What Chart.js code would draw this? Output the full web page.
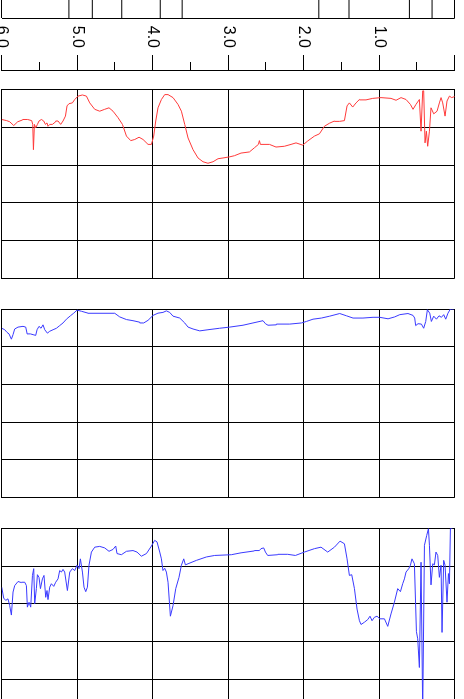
<!DOCTYPE html>
<html>
<head>
<meta charset="utf-8">
<script src="https://cdn.jsdelivr.net/npm/chart.js@4.4.1/dist/chart.umd.min.js"></script>
<style>
html,body{margin:0;padding:0;background:#fff;width:464px;height:699px;overflow:hidden}
#log{position:absolute;left:0;top:0;width:699px;height:464px;transform-origin:0 0;transform:translate(464px,0) rotate(90deg);overflow:hidden;background:#fff}
#log canvas{position:absolute;top:0}
</style>
</head>
<body>
<div id="log">
  <canvas id="marks" width="19" height="474" style="left:0px"></canvas>
  <canvas id="depth" width="76" height="474" style="left:0px"></canvas>
  <canvas id="t1" width="200" height="474" style="left:85px"></canvas>
  <canvas id="t2" width="200" height="474" style="left:304px"></canvas>
  <canvas id="t3" width="200" height="474" style="left:523px"></canvas>
</div>
<script>
// ---------- data ----------
const depthTickLabels = ['', '1.0', '2.0', '3.0', '4.0', '5.0', '6.0'];   // labels for depth 0..6
const markerDepths = [5.11, 4.80, 4.41, 3.90, 3.61, 1.80, 1.40, 0.60, 0.30];

const redDepth = [6.000,5.934,5.894,5.841,5.788,5.722,5.656,5.603,5.589,5.580,5.567,5.550,5.527,5.506,5.474,5.444,5.421,5.400,5.387,5.364,5.329,5.285,5.254,5.219,5.188,5.156,5.135,5.109,5.064,5.033,4.989,4.931,4.878,4.834,4.768,4.702,4.636,4.579,4.526,4.460,4.401,4.348,4.291,4.238,4.181,4.128,4.062,4.017,3.987,3.960,3.930,3.885,3.841,3.797,3.731,3.665,3.620,3.576,3.532,3.466,3.400,3.334,3.268,3.201,3.135,3.069,2.980,2.918,2.830,2.719,2.653,2.600,2.587,2.574,2.454,2.367,2.256,2.168,2.102,2.013,1.947,1.858,1.792,1.726,1.660,1.593,1.527,1.461,1.426,1.395,1.351,1.307,1.262,1.175,1.086,0.976,0.844,0.777,0.711,0.645,0.587,0.552,0.513,0.468,0.446,0.424,0.411,0.393,0.375,0.358,0.335,0.314,0.278,0.234,0.203,0.181,0.159,0.128,0.102,0.070,0.040,0.000];
const redValue = [0.79,0.82,0.85,0.95,0.85,0.80,0.79,0.82,0.92,1.59,0.92,1.01,0.92,0.83,0.79,0.83,0.92,0.88,0.97,0.92,0.92,0.85,0.83,0.92,0.83,0.70,0.43,0.37,0.35,0.26,0.17,0.14,0.17,0.35,0.52,0.57,0.52,0.48,0.57,0.74,0.92,1.23,1.35,1.32,1.26,1.32,1.45,1.45,1.23,0.83,0.48,0.26,0.13,0.13,0.21,0.39,0.57,0.92,1.28,1.59,1.81,1.91,1.95,1.91,1.83,1.81,1.78,1.75,1.68,1.65,1.54,1.45,1.35,1.45,1.45,1.52,1.50,1.45,1.41,1.47,1.36,1.23,1.17,0.97,0.89,0.83,0.84,0.82,0.43,0.35,0.46,0.35,0.26,0.27,0.23,0.21,0.23,0.28,0.21,0.26,0.39,0.52,0.39,0.26,1.10,0.03,0.03,1.41,1.10,1.50,1.10,0.48,0.64,0.57,0.35,0.21,0.35,0.70,0.30,0.17,0.21,0.18];

const blueADepth = [6.000,5.960,5.930,5.903,5.872,5.850,5.828,5.784,5.718,5.682,5.665,5.620,5.585,5.550,5.532,5.506,5.479,5.453,5.430,5.395,5.364,5.320,5.275,5.232,5.188,5.143,5.090,5.046,5.003,4.944,4.857,4.746,4.613,4.503,4.437,4.348,4.261,4.172,4.119,4.062,3.996,3.930,3.864,3.819,3.775,3.731,3.642,3.576,3.532,3.466,3.377,3.268,3.113,2.980,2.804,2.672,2.539,2.507,2.473,2.362,2.185,2.030,1.964,1.877,1.766,1.656,1.523,1.434,1.347,1.215,1.082,0.993,0.883,0.795,0.728,0.619,0.552,0.530,0.517,0.486,0.441,0.411,0.384,0.362,0.331,0.309,0.278,0.242,0.208,0.176,0.146,0.119,0.089,0.057,0.013];
const blueAValue = [0.51,0.55,0.62,0.66,0.80,0.68,0.53,0.48,0.46,0.48,0.64,0.66,0.68,0.70,0.55,0.46,0.51,0.42,0.55,0.64,0.59,0.55,0.51,0.44,0.37,0.27,0.18,0.11,0.03,0.06,0.11,0.11,0.11,0.12,0.21,0.28,0.31,0.35,0.37,0.30,0.17,0.11,0.09,0.05,0.09,0.19,0.24,0.37,0.48,0.53,0.58,0.55,0.51,0.48,0.43,0.37,0.31,0.39,0.43,0.42,0.40,0.37,0.33,0.27,0.24,0.19,0.12,0.18,0.24,0.24,0.22,0.22,0.26,0.21,0.15,0.12,0.17,0.24,0.44,0.39,0.40,0.51,0.33,0.02,0.11,0.33,0.19,0.27,0.18,0.22,0.15,0.27,0.11,0.00,0.00];

const blueBDepth = [6.000,5.974,5.947,5.917,5.894,5.872,5.850,5.828,5.784,5.739,5.695,5.673,5.660,5.638,5.616,5.593,5.576,5.563,5.541,5.527,5.506,5.487,5.461,5.440,5.417,5.400,5.387,5.364,5.342,5.311,5.285,5.254,5.232,5.209,5.188,5.166,5.130,5.099,5.064,5.033,5.003,4.976,4.958,4.931,4.910,4.887,4.865,4.844,4.812,4.768,4.702,4.636,4.579,4.526,4.490,4.473,4.415,4.348,4.261,4.208,4.150,4.083,4.017,3.974,3.943,3.907,3.885,3.864,3.841,3.819,3.797,3.766,3.731,3.695,3.652,3.620,3.589,3.567,3.532,3.421,3.289,3.179,2.958,2.830,2.653,2.587,2.566,2.530,2.507,2.477,2.344,2.212,2.110,1.991,1.858,1.771,1.682,1.593,1.519,1.461,1.426,1.395,1.364,1.328,1.294,1.262,1.241,1.196,1.152,1.122,1.095,1.064,1.029,0.997,0.931,0.887,0.844,0.799,0.755,0.719,0.689,0.666,0.645,0.609,0.587,0.566,0.534,0.507,0.490,0.468,0.446,0.424,0.401,0.371,0.348,0.335,0.314,0.291,0.269,0.248,0.225,0.203,0.181,0.168,0.146,0.128,0.102,0.083,0.070,0.057,0.030];
const blueBValue = [1.56,1.85,1.91,1.87,2.05,2.30,1.69,1.52,1.41,1.44,1.43,1.52,2.09,1.96,2.09,1.25,1.07,2.00,1.60,1.23,1.30,1.60,1.34,1.25,1.83,1.65,1.89,1.56,1.47,1.54,1.43,1.34,1.12,1.16,1.09,1.16,1.65,1.16,1.07,1.12,0.98,1.07,0.81,1.16,1.56,1.68,1.56,0.98,0.63,0.50,0.48,0.52,0.61,0.56,0.47,0.67,0.70,0.61,0.59,0.63,0.74,0.67,0.47,0.32,0.36,0.63,0.81,1.12,1.06,1.16,1.43,2.33,2.05,1.60,1.30,0.98,0.81,0.97,0.94,0.85,0.76,0.72,0.70,0.65,0.60,0.59,0.54,0.52,0.63,0.72,0.70,0.69,0.72,0.63,0.54,0.50,0.63,0.50,0.34,0.41,0.81,1.25,1.23,1.60,2.14,2.45,2.55,2.49,2.42,2.33,2.45,2.36,2.33,2.39,2.40,2.60,2.27,1.96,1.60,1.68,1.47,1.34,1.16,1.07,0.98,0.81,0.94,2.74,2.93,3.69,0.90,4.84,0.45,0.19,0.01,0.45,1.50,0.94,0.97,0.63,0.72,1.30,0.98,2.76,0.85,0.98,1.96,1.20,1.47,0.01,0.00];

// ---------- layout / style ----------
const PAD_TOP = 9.3, PAD_BOTTOM = 11.7;
const base = {
  responsive: false, animation: false, devicePixelRatio: 1,
  plugins: { legend: { display: false }, tooltip: { enabled: false } },
  events: []
};
function noPad(s) { s.paddingTop = 0; s.paddingBottom = 0; s.paddingLeft = 0; s.paddingRight = 0; }

// formation marks
new Chart(document.getElementById('marks'), {
  type: 'scatter',
  data: { datasets: markerDepths.map(d => ({
    data: [{ x: 0, y: d }, { x: 1, y: d }],
    showLine: true, borderColor: '#000', borderWidth: 1, pointRadius: 0
  })) },
  options: Object.assign({}, base, {
    layout: { padding: { top: PAD_TOP, bottom: PAD_BOTTOM, left: 0, right: 1 } },
    scales: {
      x: { type: 'linear', min: 0, max: 1, ticks: { display: false, stepSize: 1 },
           grid: { drawTicks: false, color: c => (c.tick && c.tick.value === 1) ? '#000' : 'rgba(0,0,0,0)' },
           border: { display: false }, afterFit: s => { s.height = 0; noPad(s); } },
      y: { type: 'linear', min: 0, max: 6, reverse: true, ticks: { display: false, stepSize: 6 },
           grid: { drawTicks: false, color: '#000' }, border: { display: false },
           afterFit: s => { s.width = 0; noPad(s); } }
    }
  })
});

// depth axis
new Chart(document.getElementById('depth'), {
  type: 'scatter',
  data: { datasets: [] },
  options: Object.assign({}, base, {
    layout: { padding: { top: PAD_TOP, bottom: PAD_BOTTOM, left: 0, right: 0 } },
    scales: {
      x: { type: 'linear', display: false, min: 0, max: 1 },
      yMajor: { type: 'linear', position: 'left', weight: 1, min: 0, max: 6, reverse: true,
        afterFit: s => { s.width = 62; noPad(s); },
        ticks: { stepSize: 1, autoSkip: false, padding: 7, color: '#000',
                 font: { family: "'Liberation Sans', Arial, sans-serif", size: 16 },
                 callback: v => depthTickLabels[Math.round(v)] },
        grid: { drawOnChartArea: false, drawTicks: true, tickLength: 7, color: '#000' },
        border: { display: false } },
      yMinor: { type: 'linear', position: 'left', weight: 0, min: 0, max: 6, reverse: true,
        afterFit: s => { s.width = 8; noPad(s); },
        ticks: { display: false, stepSize: 0.5, autoSkip: false },
        grid: { drawOnChartArea: false, drawTicks: true, tickLength: 8, color: '#000' },
        border: { display: true, color: '#000' } }
    }
  })
});

// log tracks
function track(id, depths, values, color, padLeft) {
  const width = 188.6;
  new Chart(document.getElementById(id), {
    type: 'scatter',
    data: { datasets: [{
      data: depths.map((d, i) => ({ x: values[i], y: d })),
      showLine: true, borderColor: color, borderWidth: 1, pointRadius: 0, tension: 0
    }] },
    options: Object.assign({}, base, {
      layout: { padding: { top: PAD_TOP, bottom: PAD_BOTTOM, left: padLeft, right: 200 - padLeft - width } },
      scales: {
        x: { type: 'linear', min: 0, max: 5, ticks: { display: false, stepSize: 1 },
             grid: { drawTicks: false, color: '#000' }, border: { color: '#000' },
             afterFit: s => { s.height = 0; noPad(s); } },
        y: { type: 'linear', min: 0, max: 6, reverse: true, ticks: { display: false, stepSize: 1 },
             grid: { drawTicks: false, color: '#000' }, border: { color: '#000' },
             afterFit: s => { s.width = 0; noPad(s); } }
      }
    })
  });
}
track('t1', redDepth, redValue, '#ff3a3a', 4.7);
track('t2', blueADepth, blueAValue, '#3a3aff', 5.0);
track('t3', blueBDepth, blueBValue, '#3a3aff', 5.3);
</script>
</body>
</html>
